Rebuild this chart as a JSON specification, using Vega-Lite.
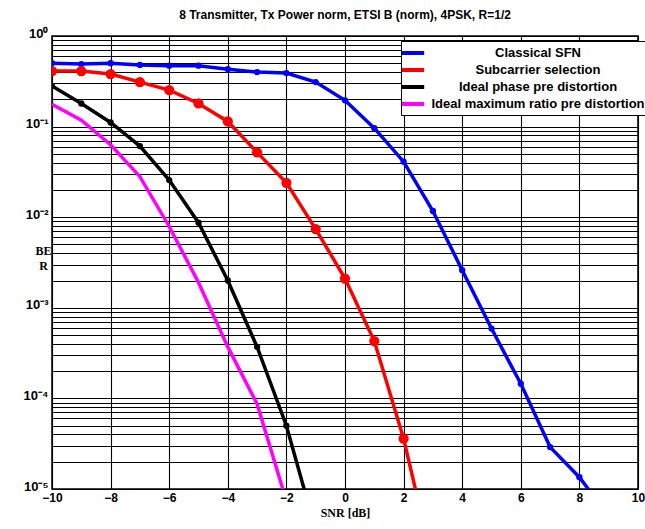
{
  "$schema": "https://vega.github.io/schema/vega-lite/v6.json",
  "autosize": {"type": "none"},
  "width": 586,
  "height": 453,
  "padding": {"left": 52, "top": 36, "right": 7, "bottom": 40},
  "background": "white",
  "title": {
    "text": "8 Transmitter, Tx Power norm, ETSI B (norm), 4PSK, R=1/2",
    "font": "Liberation Sans",
    "fontSize": 12,
    "fontWeight": "bold",
    "color": "black",
    "frame": "group",
    "offset": 5
  },
  "config": {
    "view": {"stroke": "black", "strokeWidth": 1.5},
    "axis": {
      "gridColor": "black",
      "gridOpacity": 1,
      "gridWidth": 1.1,
      "domain": false,
      "ticks": false,
      "labelFont": "Liberation Sans",
      "labelFontWeight": "bold",
      "labelFontSize": 12,
      "labelColor": "black",
      "titleFont": "Liberation Serif",
      "titleFontWeight": "bold",
      "titleFontSize": 12,
      "titleColor": "black"
    }
  },
  "data": {
    "values": [
      {"series": "Classical SFN", "snr": -10, "ber": 0.50},
      {"series": "Classical SFN", "snr": -9, "ber": 0.49},
      {"series": "Classical SFN", "snr": -8, "ber": 0.50},
      {"series": "Classical SFN", "snr": -7, "ber": 0.48},
      {"series": "Classical SFN", "snr": -6, "ber": 0.47},
      {"series": "Classical SFN", "snr": -5, "ber": 0.47},
      {"series": "Classical SFN", "snr": -4, "ber": 0.43},
      {"series": "Classical SFN", "snr": -3, "ber": 0.40},
      {"series": "Classical SFN", "snr": -2, "ber": 0.39},
      {"series": "Classical SFN", "snr": -1, "ber": 0.31},
      {"series": "Classical SFN", "snr": 0, "ber": 0.195},
      {"series": "Classical SFN", "snr": 1, "ber": 0.096},
      {"series": "Classical SFN", "snr": 2, "ber": 0.041},
      {"series": "Classical SFN", "snr": 3, "ber": 0.0117},
      {"series": "Classical SFN", "snr": 4, "ber": 0.0026},
      {"series": "Classical SFN", "snr": 5, "ber": 0.00059},
      {"series": "Classical SFN", "snr": 6, "ber": 0.000145},
      {"series": "Classical SFN", "snr": 7, "ber": 0.000029},
      {"series": "Classical SFN", "snr": 8, "ber": 0.0000135},
      {"series": "Classical SFN", "snr": 9, "ber": 0.000005},
      {"series": "Subcarrier selection", "snr": -10, "ber": 0.41},
      {"series": "Subcarrier selection", "snr": -9, "ber": 0.41},
      {"series": "Subcarrier selection", "snr": -8, "ber": 0.38},
      {"series": "Subcarrier selection", "snr": -7, "ber": 0.31},
      {"series": "Subcarrier selection", "snr": -6, "ber": 0.253},
      {"series": "Subcarrier selection", "snr": -5, "ber": 0.18},
      {"series": "Subcarrier selection", "snr": -4, "ber": 0.114},
      {"series": "Subcarrier selection", "snr": -3, "ber": 0.052},
      {"series": "Subcarrier selection", "snr": -2, "ber": 0.024},
      {"series": "Subcarrier selection", "snr": -1, "ber": 0.0074},
      {"series": "Subcarrier selection", "snr": 0, "ber": 0.0021},
      {"series": "Subcarrier selection", "snr": 1, "ber": 0.00043},
      {"series": "Subcarrier selection", "snr": 2, "ber": 0.000036},
      {"series": "Subcarrier selection", "snr": 3, "ber": 0.0000015},
      {"series": "Ideal phase pre distortion", "snr": -10, "ber": 0.28},
      {"series": "Ideal phase pre distortion", "snr": -9, "ber": 0.18},
      {"series": "Ideal phase pre distortion", "snr": -8, "ber": 0.111},
      {"series": "Ideal phase pre distortion", "snr": -7, "ber": 0.061},
      {"series": "Ideal phase pre distortion", "snr": -6, "ber": 0.0257},
      {"series": "Ideal phase pre distortion", "snr": -5, "ber": 0.0087},
      {"series": "Ideal phase pre distortion", "snr": -4, "ber": 0.002},
      {"series": "Ideal phase pre distortion", "snr": -3, "ber": 0.00037},
      {"series": "Ideal phase pre distortion", "snr": -2, "ber": 0.00005},
      {"series": "Ideal phase pre distortion", "snr": -1, "ber": 0.0000035},
      {"series": "Ideal maximum ratio pre distortion", "snr": -10, "ber": 0.176},
      {"series": "Ideal maximum ratio pre distortion", "snr": -9, "ber": 0.118},
      {"series": "Ideal maximum ratio pre distortion", "snr": -8, "ber": 0.063},
      {"series": "Ideal maximum ratio pre distortion", "snr": -7, "ber": 0.028},
      {"series": "Ideal maximum ratio pre distortion", "snr": -6, "ber": 0.0079},
      {"series": "Ideal maximum ratio pre distortion", "snr": -5, "ber": 0.0019},
      {"series": "Ideal maximum ratio pre distortion", "snr": -4, "ber": 0.00037},
      {"series": "Ideal maximum ratio pre distortion", "snr": -3, "ber": 0.000087},
      {"series": "Ideal maximum ratio pre distortion", "snr": -2, "ber": 0.0000074}
    ]
  },
  "encoding": {
    "x": {
      "field": "snr",
      "type": "quantitative",
      "scale": {"domain": [-10, 10], "nice": false, "zero": false},
      "axis": {
        "title": "SNR [dB]",
        "values": [-10, -8, -6, -4, -2, 0, 2, 4, 6, 8, 10],
        "labelPadding": 3,
        "titlePadding": 4,
        "labelFlush": false
      }
    },
    "y": {
      "field": "ber",
      "type": "quantitative",
      "scale": {"type": "log", "domain": [0.00001, 1], "nice": false},
      "axis": {
        "title": ["BE", "R"],
        "titleAngle": 0,
        "titleAlign": "center",
        "titleBaseline": "middle",
        "titleX": -9,
        "titleY": 214,
        "titleLineHeight": 15,
        "labelOverlap": false,
        "labelPadding": 4,
        "labelFontSize": 13,
        "labelBaseline": "middle",
        "labelOffset": -3,
        "values": [1, 0.9, 0.8, 0.7, 0.6, 0.5, 0.4, 0.3, 0.2, 0.1,
                   0.09, 0.08, 0.07, 0.06, 0.05, 0.04, 0.03, 0.02, 0.01,
                   0.009, 0.008, 0.007, 0.006, 0.005, 0.004, 0.003, 0.002, 0.001,
                   0.0009, 0.0008, 0.0007, 0.0006, 0.0005, 0.0004, 0.0003, 0.0002, 0.0001,
                   0.00009, 0.00008, 0.00007, 0.00006, 0.00005, 0.00004, 0.00003, 0.00002, 0.00001],
        "labelExpr": "datum.value == 1 ? '10⁰' : datum.value == 0.1 ? '10⁻¹' : datum.value == 0.01 ? '10⁻²' : datum.value == 0.001 ? '10⁻³' : datum.value == 0.0001 ? '10⁻⁴' : datum.value == 0.00001 ? '10⁻⁵' : ''"
      }
    },
    "color": {
      "field": "series",
      "type": "nominal",
      "scale": {
        "domain": ["Classical SFN", "Subcarrier selection", "Ideal phase pre distortion", "Ideal maximum ratio pre distortion"],
        "range": ["#0000ff", "#ff0000", "#000000", "#ff00ff"]
      },
      "legend": {
        "title": null,
        "orient": "none",
        "legendX": 349,
        "legendY": 5,
        "strokeColor": "black",
        "fillColor": "white",
        "padding": 3,
        "cornerRadius": 0,
        "symbolType": "M-1.6,0L1.6,0",
        "symbolSize": 196,
        "symbolStrokeWidth": 4,
        "labelFont": "Liberation Sans",
        "labelFontWeight": "bold",
        "labelFontSize": 13,
        "labelColor": "black",
        "labelAlign": "center",
        "labelOffset": 116,
        "labelLimit": 0,
        "rowPadding": -1
      }
    }
  },
  "layer": [
    {
      "mark": {"type": "line", "strokeWidth": 3.5, "clip": true}
    },
    {
      "transform": [{"filter": "datum.series == 'Classical SFN' || datum.series == 'Ideal phase pre distortion'"}],
      "mark": {"type": "point", "filled": true, "opacity": 1, "size": 40, "clip": true},
      "encoding": {"color": {"field": "series", "type": "nominal", "legend": null}}
    },
    {
      "transform": [{"filter": "datum.series == 'Subcarrier selection'"}],
      "mark": {"type": "point", "filled": true, "opacity": 1, "size": 105, "clip": true},
      "encoding": {"color": {"field": "series", "type": "nominal", "legend": null}}
    }
  ]
}
